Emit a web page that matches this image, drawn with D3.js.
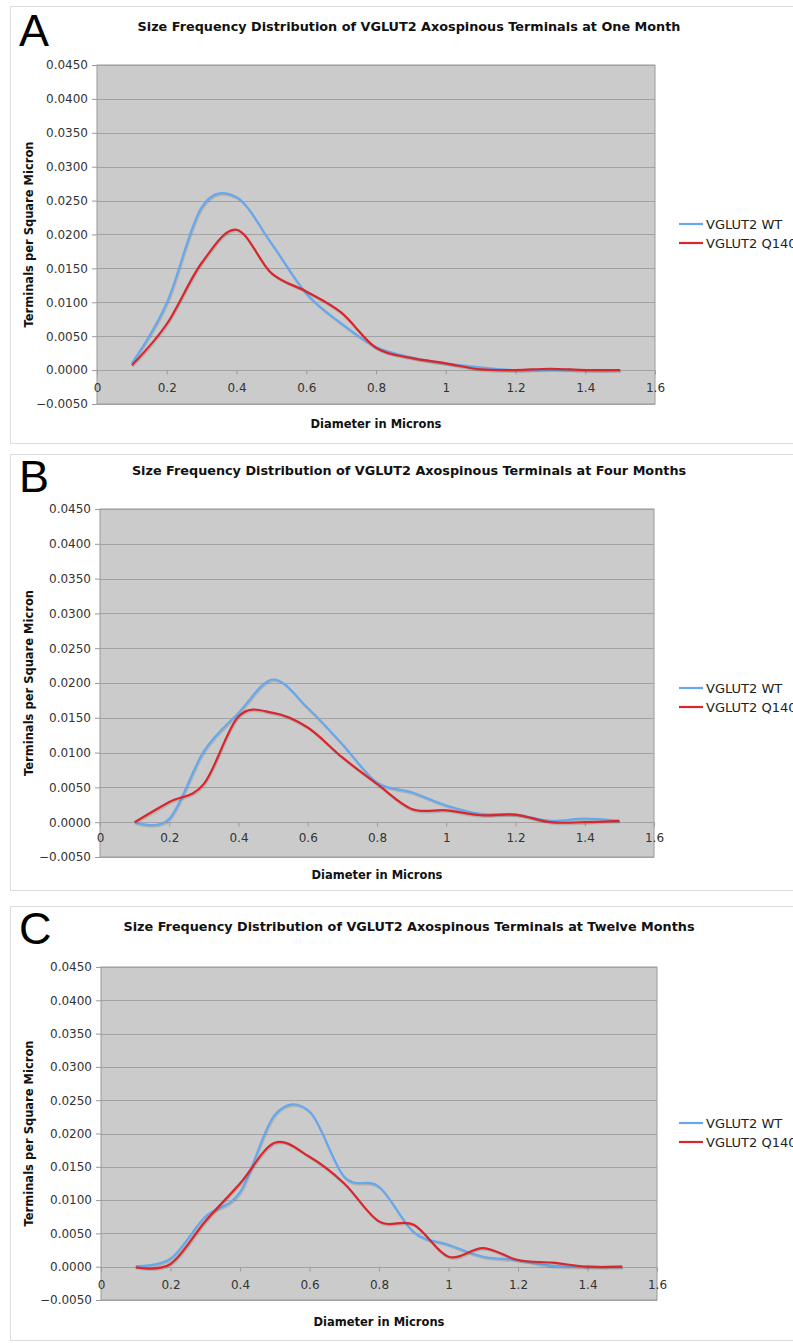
<!DOCTYPE html>
<html>
<head>
<meta charset="utf-8">
<script src="https://cdn.jsdelivr.net/npm/d3@7"></script>
<style>
  body { margin: 0; background: #fff; }
  svg { display: block; font-family: "DejaVu Sans", Verdana, sans-serif; }
</style>
</head>
<body>
<script>
// bins of the size distribution (microns)
var diameters = [0.1, 0.2, 0.3, 0.4, 0.5, 0.6, 0.7, 0.8, 0.9, 1.0, 1.1, 1.2, 1.3, 1.4, 1.5];

// terminals per square micron
var wtOneMonth     = [0.0010, 0.0099, 0.0240, 0.0255, 0.0187, 0.0113, 0.0069, 0.0034, 0.0019, 0.0010, 0.0004, 0.0000, 0.0001, 0.0000, 0.0000];
var q140OneMonth   = [0.0007, 0.0068, 0.0158, 0.0207, 0.0143, 0.0116, 0.0085, 0.0033, 0.0018, 0.0010, 0.0001, 0.0000, 0.0002, 0.0000, 0.0000];
var wtFourMonths   = [0.0000, 0.0005, 0.0102, 0.0157, 0.0205, 0.0164, 0.0112, 0.0057, 0.0043, 0.0024, 0.0012, 0.0011, 0.0002, 0.0005, 0.0002];
var q140FourMonths = [0.0000, 0.0029, 0.0055, 0.0152, 0.0157, 0.0136, 0.0093, 0.0055, 0.0019, 0.0017, 0.0010, 0.0011, 0.0000, 0.0000, 0.0002];
var wtTwelveMonths   = [0.0001, 0.0012, 0.0075, 0.0112, 0.0228, 0.0233, 0.0135, 0.0120, 0.0052, 0.0033, 0.0015, 0.0010, 0.0001, 0.0000, 0.0000];
var q140TwelveMonths = [-0.0001, 0.0004, 0.0068, 0.0125, 0.0186, 0.0165, 0.0125, 0.0068, 0.0063, 0.0015, 0.0028, 0.0010, 0.0006, 0.0000, 0.0000];

var yTickValues = [-0.005, 0, 0.005, 0.01, 0.015, 0.02, 0.025, 0.03, 0.035, 0.04, 0.045];
var xTickValues = [0, 0.2, 0.4, 0.6, 0.8, 1, 1.2, 1.4, 1.6];

var seriesNames = ["VGLUT2 WT", "VGLUT2 Q140"];
var seriesColors = ["#66a8ee", "#d8262c"];
var panelLetters = ["A", "B", "C"];
var panelTitles = [
  "Size Frequency Distribution of VGLUT2 Axospinous Terminals at One Month",
  "Size Frequency Distribution of VGLUT2 Axospinous Terminals at Four Months",
  "Size Frequency Distribution of VGLUT2 Axospinous Terminals at Twelve Months"
];
var panelSeries = [
  [wtOneMonth, q140OneMonth],
  [wtFourMonths, q140FourMonths],
  [wtTwelveMonths, q140TwelveMonths]
];

var svgWidth = 793;
var svgHeight = 1343;

// page geometry of each panel
var layouts = [
  { frameTop: 6,   frameBottom: 443,  left: 97,  right: 655, top: 65,  bottom: 404,  titleY: 31,  letterY: 46,  legendY: 224,  tickGap: 24, labelGap: 24 },
  { frameTop: 454, frameBottom: 890,  left: 100, right: 654, top: 509, bottom: 857,  titleY: 475, letterY: 492, legendY: 688,  tickGap: 22, labelGap: 22 },
  { frameTop: 906, frameBottom: 1340, left: 101, right: 657, top: 967, bottom: 1300, titleY: 931, letterY: 944, legendY: 1123, tickGap: 24, labelGap: 26 }
];

var svg = d3.select("body")
  .append("svg")
  .attr("width", svgWidth)
  .attr("height", svgHeight);

layouts.forEach(function(lay, i) {
  var g = svg.append("g");

  // panel frame
  g.append("rect")
    .attr("x", 10.5)
    .attr("y", lay.frameTop + 0.5)
    .attr("width", 800)
    .attr("height", lay.frameBottom - lay.frameTop)
    .attr("fill", "none")
    .attr("stroke", "#dcdcdc");

  var x = d3.scaleLinear().domain([0, 1.6]).range([lay.left, lay.right]);
  var y = d3.scaleLinear().domain([-0.005, 0.045]).range([lay.bottom, lay.top]);

  // plot area
  g.append("rect")
    .attr("x", lay.left)
    .attr("y", lay.top)
    .attr("width", lay.right - lay.left)
    .attr("height", lay.bottom - lay.top)
    .attr("fill", "#cbcbcb")
    .attr("stroke", "#9a9a9a");

  // gridlines
  g.selectAll(".grid")
    .data(yTickValues)
    .enter().append("line")
    .attr("x1", lay.left)
    .attr("x2", lay.right)
    .attr("y1", function(d) { return Math.round(y(d)) + 0.5; })
    .attr("y2", function(d) { return Math.round(y(d)) + 0.5; })
    .attr("stroke", "#a2a2a2")
    .attr("stroke-width", 1.2);

  // y axis
  var leftAxis = d3.axisLeft(y)
    .tickValues(yTickValues)
    .tickFormat(d3.format(".4f"))
    .tickSize(5)
    .tickPadding(4);
  var yAxisG = g.append("g")
    .attr("transform", "translate(" + lay.left + ",0)")
    .call(leftAxis);
  yAxisG.select(".domain").remove();
  yAxisG.selectAll("line").attr("stroke", "#9a9a9a");
  yAxisG.selectAll("text")
    .attr("fill", "#333")
    .style("font-size", "12px")
    .style("font-family", "DejaVu Sans, sans-serif");

  // x axis sits on the zero line
  var bottomAxis = d3.axisBottom(x)
    .tickValues(xTickValues)
    .tickFormat(d3.format("~g"))
    .tickSize(4)
    .tickPadding(lay.tickGap - 15);
  var xAxisG = g.append("g")
    .attr("transform", "translate(0," + (Math.round(y(0)) + 0.5) + ")")
    .call(bottomAxis);
  xAxisG.select(".domain").remove();
  xAxisG.selectAll("line").attr("stroke", "#9a9a9a");
  xAxisG.selectAll("text")
    .attr("fill", "#333")
    .style("font-size", "12px")
    .style("font-family", "DejaVu Sans, sans-serif");

  // curves (Excel-style smoothed lines with a soft shadow)
  var line = d3.line()
    .x(function(d) { return x(d[0]); })
    .y(function(d) { return y(d[1]); })
    .curve(d3.curveCatmullRom.alpha(0));

  panelSeries[i].forEach(function(values, k) {
    var pts = diameters.map(function(dm, j) { return [dm, values[j]]; });
    g.append("path")
      .attr("d", line(pts))
      .attr("fill", "none")
      .attr("stroke", "rgba(0,0,0,0.13)")
      .attr("stroke-width", 2.2)
      .attr("transform", "translate(0.8,1.4)");
    g.append("path")
      .attr("d", line(pts))
      .attr("fill", "none")
      .attr("stroke", seriesColors[k])
      .attr("stroke-width", 2.2);
  });

  // titles
  g.append("text")
    .attr("x", 409)
    .attr("y", lay.titleY)
    .attr("text-anchor", "middle")
    .style("font-size", "12.8px")
    .style("font-weight", "bold")
    .attr("fill", "#111")
    .text(panelTitles[i]);

  g.append("text")
    .attr("x", 19)
    .attr("y", lay.letterY)
    .style("font-family", "Liberation Sans, Arial, sans-serif")
    .style("font-size", "45px")
    .attr("fill", "#000")
    .text(panelLetters[i]);

  g.append("text")
    .attr("x", (lay.left + lay.right) / 2)
    .attr("y", lay.bottom + lay.labelGap)
    .attr("text-anchor", "middle")
    .style("font-size", "11.5px")
    .style("font-weight", "bold")
    .attr("fill", "#111")
    .text("Diameter in Microns");

  g.append("text")
    .attr("transform", "translate(33," + ((lay.top + lay.bottom) / 2) + ") rotate(-90)")
    .attr("text-anchor", "middle")
    .style("font-size", "11.5px")
    .style("font-weight", "bold")
    .attr("fill", "#111")
    .text("Terminals per Square Micron");

  // legend
  seriesNames.forEach(function(name, k) {
    var ly = lay.legendY + k * 19;
    g.append("line")
      .attr("x1", 679).attr("x2", 703)
      .attr("y1", ly).attr("y2", ly)
      .attr("stroke", seriesColors[k])
      .attr("stroke-width", 2.2);
    g.append("text")
      .attr("x", 706)
      .attr("y", ly + 4.5)
      .style("font-size", "13px")
      .attr("fill", "#222")
      .text(name);
  });
});
</script>
</body>
</html>
